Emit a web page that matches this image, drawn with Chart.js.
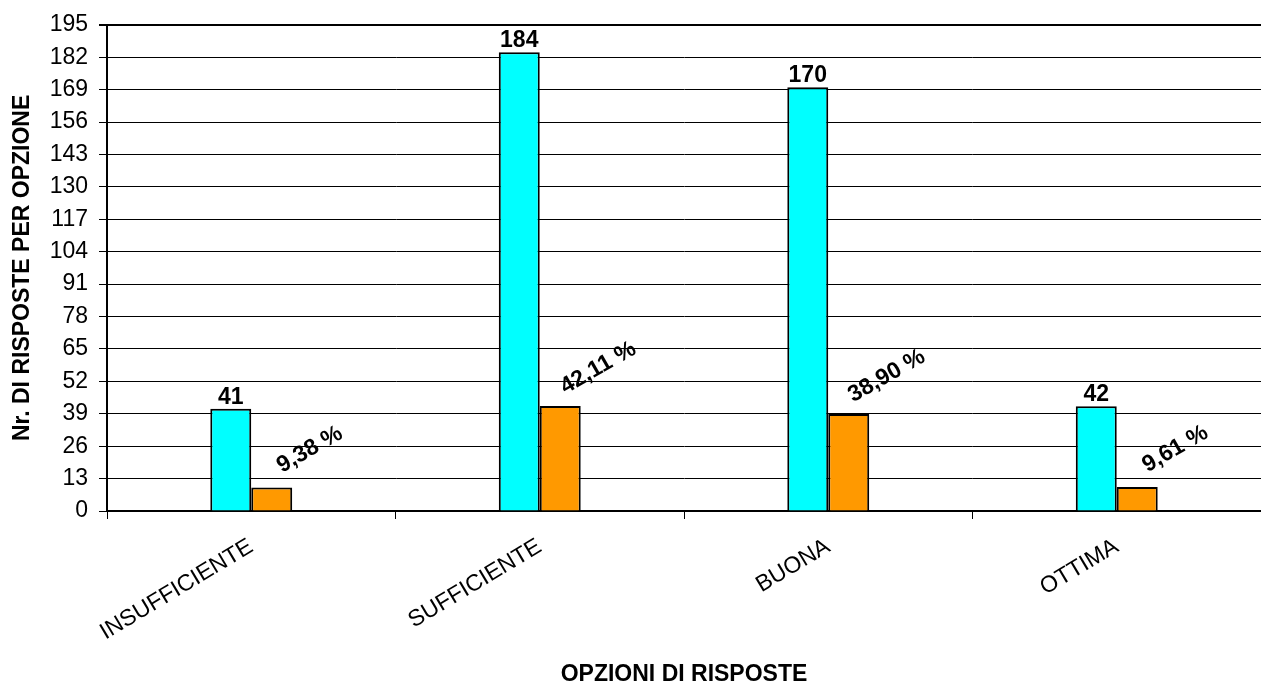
<!DOCTYPE html>
<html>
<head>
<meta charset="utf-8">
<title>Opzioni di risposte</title>
<script src="https://cdn.jsdelivr.net/npm/chart.js@4"></script>
<style>
  html, body { margin: 0; padding: 0; background: #fff; }
  canvas { display: block; }
</style>
</head>
<body>
<canvas id="chart" width="1261" height="689"></canvas>
<script>
(() => {
  "use strict";

  // ---------- data ----------
  const categories = ["INSUFFICIENTE", "SUFFICIENTE", "BUONA", "OTTIMA"];
  const countValues = [41, 184, 170, 42];
  const pctValues = [9.38, 42.11, 38.9, 9.61];
  const yTicks = [0, 13, 26, 39, 52, 65, 78, 91, 104, 117, 130, 143, 156, 169, 182, 195];

  const CYAN = "#00ffff";
  const ORANGE = "#ff9900";
  const FONT = "'Liberation Sans', Arial, sans-serif";

  const fmtPct = (x) => x.toFixed(2).replace(".", ",") + " %";

  // value labels drawn over the bars
  const labelPlugin = {
    id: "valueLabels",
    afterDatasetsDraw(chart) {
      const ctx = chart.ctx;
      ctx.save();
      ctx.fillStyle = "#000";
      ctx.font = `bold 23px ${FONT}`;
      chart.getDatasetMeta(0).data.forEach((bar, i) => {
        ctx.textAlign = "center";
        ctx.textBaseline = "bottom";
        ctx.fillText(String(countValues[i]), bar.x, bar.y);
      });
      chart.getDatasetMeta(1).data.forEach((bar, i) => {
        ctx.save();
        ctx.translate(bar.x + 38, bar.y - 38);
        ctx.rotate(-30 * Math.PI / 180);
        ctx.textAlign = "center";
        ctx.textBaseline = "middle";
        ctx.fillText(fmtPct(pctValues[i]), 0, 0);
        ctx.restore();
      });
      ctx.restore();
    },
  };

  new Chart(document.getElementById("chart"), {
    type: "bar",
    data: {
      labels: categories,
      datasets: [
        {
          label: "Nr. risposte",
          data: countValues,
          backgroundColor: CYAN,
          borderColor: "#000",
          borderWidth: 2,
          categoryPercentage: 0.284,
          barPercentage: 1.0,
        },
        {
          label: "%",
          data: pctValues,
          backgroundColor: ORANGE,
          borderColor: "#000",
          borderWidth: 2,
          categoryPercentage: 0.284,
          barPercentage: 1.0,
        },
      ],
    },
    options: {
      responsive: false,
      devicePixelRatio: 1,
      animation: false,
      layout: { padding: { top: 22, right: 0, left: 0, bottom: 0 } },
      plugins: { legend: { display: false }, tooltip: { enabled: false } },
      scales: {
        x: {
          grid: { offset: true, drawOnChartArea: false, drawTicks: true, tickLength: 8, color: "#000", lineWidth: 1 },
          border: { color: "#000", width: 2 },
          ticks: {
            color: "#000",
            font: { family: FONT, size: 23 },
            minRotation: 31,
            maxRotation: 31,
            padding: 14,
          },
          title: {
            display: true,
            text: "OPZIONI DI RISPOSTE",
            color: "#000",
            font: { family: FONT, size: 23, weight: "bold" },
            padding: { top: 0, bottom: 1 },
          },
          afterFit: (s) => { s.height = 178; },
        },
        y: {
          min: 0,
          max: 195,
          afterBuildTicks: (s) => { s.ticks = yTicks.map((v) => ({ value: v })); },
          grid: {
            color: "#000",
            lineWidth: (c) => (c.tick && c.tick.value === 195 ? 2 : 1),
            tickLength: 8,
          },
          border: { color: "#000", width: 2 },
          ticks: {
            color: "#000",
            font: { family: FONT, size: 23 },
            padding: 11,
          },
          title: {
            display: true,
            text: "Nr. DI RISPOSTE PER OPZIONE",
            color: "#000",
            font: { family: FONT, size: 23, weight: "bold" },
            padding: { top: 9, bottom: 0 },
          },
          afterFit: (s) => { s.width = 107; },
        },
      },
    },
    plugins: [labelPlugin],
  });
})();
</script>
</body>
</html>
